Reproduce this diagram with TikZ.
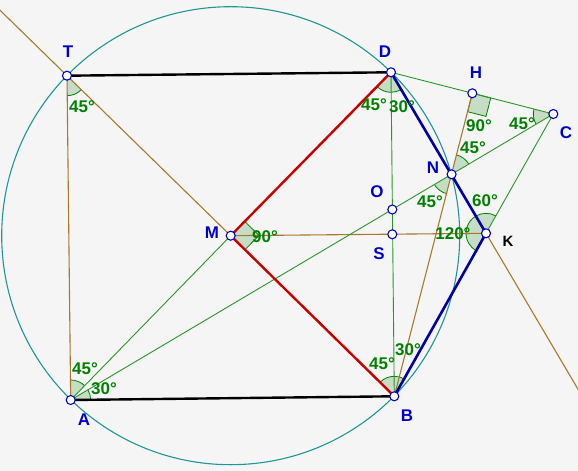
\documentclass[tikz,border=0pt]{standalone}
\usepackage{fontspec}
\setmainfont{Liberation Sans}
\usetikzlibrary{angles,calc}

\definecolor{bggray}{RGB}{245,245,245}
\definecolor{ptblue}{RGB}{0,0,200}
\definecolor{lnbrown}{RGB}{170,120,45}
\definecolor{lngreen}{RGB}{40,150,40}
\definecolor{lnred}{RGB}{200,0,0}
\definecolor{lnblue}{RGB}{0,0,160}
\definecolor{circteal}{RGB}{30,150,150}
\definecolor{anggreen}{RGB}{0,128,0}

\begin{document}
\begin{tikzpicture}[
	x=1bp, y=1bp,
	font=\fontsize{17}{17}\selectfont\bfseries,
	pt/.style={circle, draw=ptblue, fill=white, line width=1.1bp, inner sep=0pt, minimum size=9bp},
	lbl/.style={text=ptblue},
	deg/.style={text=anggreen},
	brownline/.style={draw=lnbrown, line width=1.1bp},
	greenline/.style={draw=lngreen, line width=0.9bp},
	redline/.style={draw=lnred, line width=2.4bp},
	blueline/.style={draw=lnblue, line width=2.6bp},
	blackline/.style={draw=black, line width=2.4bp},
	ang/.style={draw=anggreen, fill=anggreen, fill opacity=0.2, line width=0.8bp, angle radius=20bp},
	rangle/.style={draw=anggreen, fill=anggreen, fill opacity=0.2, line width=0.8bp}
	]
	% frame
\fill[bggray, use as bounding box] (0,0) rectangle (578,-471);

% points
\coordinate (T) at (67,-75.7);
\coordinate (D) at (391,-72.3);
\coordinate (A) at (70.7,-400);
\coordinate (B) at (394.3,-396.3);
\coordinate (M) at (230.7,-235.7);
\coordinate (O) at (392.3,-209.5);
\coordinate (S) at (392.3,-234.3);
\coordinate (H) at (472.3,-93.3);
\coordinate (C) at (553.3,-114);
\coordinate (N) at (451.6,-174.3);
\coordinate (K) at (486,-233.3);
\coordinate (tend) at ($(M)!1.41!(T)$);
\coordinate (kend) at ($(D)!1.97!(K)$);

% right angles
\coordinate (m1) at ($(M)!20bp!(D)$);
\coordinate (m3) at ($(M)!20bp!(B)$);
\coordinate (m2) at ($(m1)+(m3)-(M)$);
\coordinate (h1) at ($(H)!19bp!(C)$);
\coordinate (h3) at ($(H)!19bp!(N)$);
\coordinate (h2) at ($(h1)+(h3)-(H)$);

% angle marks
\pic[ang] {angle = A--T--M};
\pic[ang] {angle = M--D--B};
\pic[ang] {angle = B--D--K};
\pic[ang] {angle = D--C--A};
\pic[ang] {angle = C--N--H};
\pic[ang] {angle = A--N--B};
\pic[ang] {angle = C--K--N};
\pic[ang] {angle = N--K--B};
\pic[ang] {angle = M--A--T};
\pic[ang] {angle = B--A--C};
\pic[ang] {angle = D--B--M};
\pic[ang] {angle = K--B--D};
\draw[rangle] (M) -- (m1) -- (m2) -- (m3) -- cycle;
\draw[rangle] (H) -- (h1) -- (h2) -- (h3) -- cycle;

% circle
\draw[circteal, line width=1.1bp] (M) circle[radius=229bp];

% lines
\draw[brownline] (T) -- (A);
\draw[brownline] (tend) -- (M);
\draw[brownline] (M) -- (K);
\draw[brownline] (K) -- (kend);
\draw[brownline] (H) -- (B);
\draw[greenline] (A) -- (M);
\draw[greenline] (A) -- (C);
\draw[greenline] (D) -- (B);
\draw[greenline] (D) -- (C);
\draw[greenline] (C) -- (K);
\draw[blackline] (T) -- (D);
\draw[blackline] (A) -- (B);
\draw[redline] (M) -- (D);
\draw[redline] (M) -- (B);
\draw[blueline] (D) -- (K);
\draw[blueline] (K) -- (B);

\foreach \p in {T,D,A,B,M,O,S,H,C,N,K}
\node[pt] (\p-pt) at (\p) {};

% point names
\node[lbl] (lT) at (68,-52) {T};
\node[lbl] (lD) at (385,-52) {D};
\node[lbl] (lH) at (476,-73) {H};
\node[lbl] (lC) at (566,-133) {C};
\node[lbl] (lN) at (433,-168) {N};
\node[lbl] (lO) at (377,-192) {O};
\node[lbl] (lS) at (379,-254) {S};
\node[font=\fontsize{15}{15}\selectfont\bfseries] (lK) at (508,-241) {K};
\node[lbl] (lM) at (212,-233) {M};
\node[lbl] (lA) at (84,-420) {A};
\node[lbl] (lB) at (407,-416) {B};

% angle values
\node[deg] (dT) at (82,-107) {45°};
\node[deg] (dD1) at (374,-105) {45°};
\node[deg] (dD2) at (402,-107) {30°};
\node[deg] (dH) at (479,-126) {90°};
\node[deg] (dC) at (522,-124) {45°};
\node[deg] (dN1) at (473,-148) {45°};
\node[deg] (dN2) at (430,-202) {45°};
\node[deg] (dK1) at (485,-201) {60°};
\node[deg] (dK2) at (453,-234) {120°};
\node[deg] (dM) at (265,-237) {90°};
\node[deg] (dA1) at (85,-369) {45°};
\node[deg] (dA2) at (104,-389) {30°};
\node[deg] (dB1) at (382,-364) {45°};
\node[deg] (dB2) at (408,-350) {30°};

\end{tikzpicture}
\end{document}
